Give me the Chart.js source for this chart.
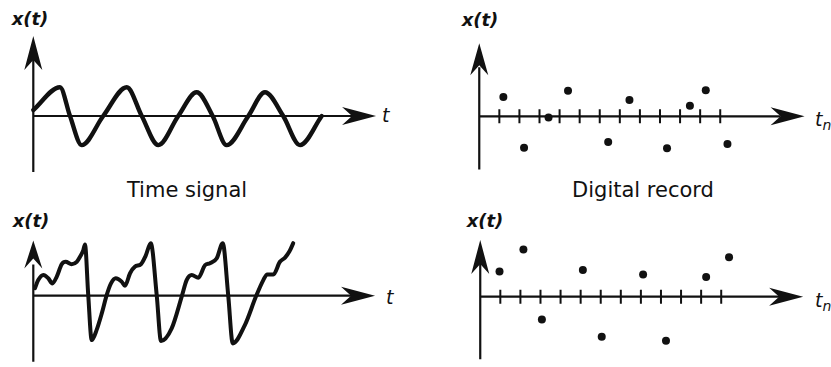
<!DOCTYPE html>
<html>
<head>
<meta charset="utf-8">
<script src="https://cdn.jsdelivr.net/npm/chart.js@4.4.1/dist/chart.umd.min.js"></script>
<style>
  html, body { margin: 0; padding: 0; background: #fff; }
  #figure { position: relative; width: 831px; height: 367px; overflow: hidden; background: #fff; }
  #figure canvas { position: absolute; }
  .lbl { position: absolute; color: #111; font-family: "DejaVu Sans", sans-serif; white-space: nowrap; line-height: 1; }
  .center { transform: translateX(-50%); }
  .xt { font-weight: bold; font-style: italic; font-size: 18px; }
  .tv { font-style: italic; font-size: 19px; }
  .tv sub { font-size: 14px; vertical-align: -4px; font-style: italic; }
  .cap { font-size: 21px; }
</style>
</head>
<body>
<div id="figure">
  <div class="lbl xt center" style="left:30px; top:10px;">x(t)</div>
  <div class="lbl xt center" style="left:480px; top:11px;">x(t)</div>
  <div class="lbl xt center" style="left:31px; top:212px;">x(t)</div>
  <div class="lbl xt center" style="left:485px; top:212px;">x(t)</div>
  <div class="lbl tv" style="left:382px; top:106px;">t</div>
  <div class="lbl tv" style="left:386px; top:288px;">t</div>
  <div class="lbl tv" style="left:815px; top:110px;">t<sub>n</sub></div>
  <div class="lbl tv" style="left:815px; top:291px;">t<sub>n</sub></div>
  <div class="lbl cap center" id="capLeft" style="left:187px; top:180px;"></div>
  <div class="lbl cap center" id="capRight" style="left:643px; top:180px;"></div>
</div>
<script>
// captions under the two upper panels
const captions = ["Time signal", "Digital record"];

// time in sample periods, amplitude in arbitrary units
const sineT = [0, 1.30, 1.79, 2.36, 3.41, 4.56, 5.29, 6.10, 7.07, 7.97, 8.75, 9.43, 10.49, 11.30, 12.19, 13.01, 14.07];
const sineX = [0.2, 0.96, 0, -0.97, 0, 0.96, 0, -0.97, 0, 0.79, 0, -0.97, 0, 0.79, 0, -0.97, 0];

const sawT = [0.08, 0.24, 0.49, 0.73, 0.93, 1.14, 1.39, 1.58, 1.87, 2.12, 2.28, 2.44, 2.52, 2.68, 2.85,
  3.09, 3.34, 3.58, 3.79, 4.02, 4.31, 4.47, 4.72, 4.96, 5.25, 5.48, 5.73, 6.02, 6.23,
  6.75, 7.24, 7.48, 7.73, 8.05, 8.38, 8.62, 8.95, 9.24, 9.51, 9.73,
  10.32, 10.86, 11.22, 11.41, 11.71, 12.03, 12.28, 12.49, 12.68];
const sawX = [0.25, 0.52, 0.69, 0.58, 0.41, 0.63, 1.05, 1.13, 1.05, 1.13, 1.30, 1.52, 1.71, 0.02, -1.48,
  -1.14, -0.59, 0.02, 0.41, 0.58, 0.47, 0.33, 0.75, 0.97, 1.05, 1.33, 1.75, 0.02, -1.51,
  -1.09, -0.03, 0.52, 0.69, 0.60, 1.02, 1.08, 1.25, 1.75, 0, -1.59,
  -0.98, -0.03, 0.52, 0.71, 0.71, 1.13, 1.27, 1.47, 1.75];

// sample instants t_n marked on the digital record axes
const sampleTicks = [1, 2, 3, 4, 5, 6, 7, 8, 9, 10, 11, 12];

const recordAT = [1.20, 2.23, 3.45, 4.42, 6.42, 7.48, 9.35, 10.49, 11.28, 12.36];
const recordAX = [0.68, -1.10, -0.04, 0.90, -0.90, 0.57, -1.12, 0.37, 0.92, -0.97];

const recordBT = [0.96, 2.15, 3.07, 5.11, 6.05, 8.11, 9.25, 11.25, 12.39];
const recordBX = [0.89, 1.67, -0.81, 0.94, -1.42, 0.78, -1.56, 0.70, 1.39];

const SAMPLE_PX = 20.5; // pixels per sample period
const UNIT_PX = 30;     // pixels per amplitude unit
const INK = "#111";

document.getElementById("capLeft").textContent = captions[0];
document.getElementById("capRight").textContent = captions[1];

const toPoints = (ts, xs) => ts.map((t, i) => ({ x: t, y: xs[i] }));

function drawHead(ctx, tipX, tipY, dx, dy, head) {
  const px = -dy, py = dx;
  const bx = tipX - dx * head.len, by = tipY - dy * head.len;
  const nx = tipX - dx * (head.len - head.notch), ny = tipY - dy * (head.len - head.notch);
  ctx.beginPath();
  ctx.moveTo(tipX, tipY);
  ctx.lineTo(bx + px * head.half, by + py * head.half);
  ctx.lineTo(nx, ny);
  ctx.lineTo(bx - px * head.half, by - py * head.half);
  ctx.closePath();
  ctx.fill();
}

// axes through the origin with arrow heads, plus optional sample ticks
const arrowAxes = {
  id: "arrowAxes",
  beforeDatasetsDraw(chart, args, opts) {
    const { ctx } = chart;
    const { x, y } = chart.scales;
    const x0 = x.getPixelForValue(0);
    const y0 = y.getPixelForValue(0);
    const xEnd = x.getPixelForValue(opts.tEnd);
    const yTop = y.getPixelForValue(opts.aTop);
    const yBot = y.getPixelForValue(opts.aBottom);
    const head = opts.head;

    ctx.save();
    ctx.strokeStyle = INK;
    ctx.fillStyle = INK;
    ctx.lineWidth = 2.2;
    ctx.beginPath();
    ctx.moveTo(x0, yBot);
    ctx.lineTo(x0, yTop + head.len - head.notch);
    ctx.moveTo(x0 - 1, y0);
    ctx.lineTo(xEnd - head.len + head.notch, y0);
    ctx.stroke();

    if (opts.ticks) {
      ctx.lineWidth = 2;
      ctx.beginPath();
      opts.ticks.forEach((t) => {
        const px = x.getPixelForValue(t);
        ctx.moveTo(px, y0 - 7);
        ctx.lineTo(px, y0 + 7);
      });
      ctx.stroke();
    }

    drawHead(ctx, x0, yTop, 0, -1, head.yLen ? { ...head, len: head.yLen } : head);
    drawHead(ctx, xEnd, y0, 1, 0, head);
    ctx.restore();
  },
};

const waveStyle = {
  borderColor: INK,
  borderWidth: 4.4,
  pointRadius: 0,
  fill: false,
  cubicInterpolationMode: "monotone",
  borderCapStyle: "round",
  borderJoinStyle: "round",
};

const dotStyle = {
  pointRadius: 4,
  pointBackgroundColor: INK,
  pointBorderWidth: 0,
  showLine: false,
};

const panels = [
  {
    type: "line", left: 0, top: 26, w: 420, h: 156, ox: 33.3, oy: 90,
    datasets: [{ ...waveStyle, data: toPoints(sineT, sineX) }],
    axes: { tEnd: 16.72, aTop: 2.67, aBottom: -1.87, head: { len: 34, half: 9, notch: 10 } },
  },
  {
    type: "scatter", left: 440, top: 26, w: 391, h: 156, ox: 36, oy: 91,
    datasets: [{ ...dotStyle, data: toPoints(recordAT, recordAX) }],
    axes: { tEnd: 16.2, aTop: 2.57, aBottom: -1.87, ticks: sampleTicks, head: { len: 34, half: 9, notch: 10, yLen: 32 } },
  },
  {
    type: "line", left: 0, top: 232, w: 420, h: 135, ox: 33.3, oy: 63.7,
    datasets: [{ ...waveStyle, borderWidth: 4, data: toPoints(sawT, sawX) }],
    axes: { tEnd: 16.67, aTop: 1.84, aBottom: -2.2, head: { len: 34, half: 9, notch: 10, yLen: 28 } },
  },
  {
    type: "scatter", left: 440, top: 226, w: 391, h: 141, ox: 37, oy: 70.7,
    datasets: [{ ...dotStyle, data: toPoints(recordBT, recordBX) }],
    axes: { tEnd: 16.08, aTop: 2.0, aBottom: -2.21, ticks: sampleTicks, head: { len: 34, half: 9, notch: 10, yLen: 34 } },
  },
];

const figure = document.getElementById("figure");

panels.forEach((p) => {
  const canvas = document.createElement("canvas");
  canvas.width = p.w;
  canvas.height = p.h;
  canvas.style.left = p.left + "px";
  canvas.style.top = p.top + "px";
  canvas.style.width = p.w + "px";
  canvas.style.height = p.h + "px";
  figure.appendChild(canvas);

  new Chart(canvas.getContext("2d"), {
    type: p.type,
    data: { datasets: p.datasets },
    options: {
      responsive: false,
      animation: false,
      events: [],
      layout: { padding: 0 },
      plugins: {
        legend: { display: false },
        tooltip: { enabled: false },
        arrowAxes: p.axes,
      },
      scales: {
        x: { type: "linear", display: false, min: -p.ox / SAMPLE_PX, max: (p.w - p.ox) / SAMPLE_PX },
        y: { type: "linear", display: false, min: -(p.h - p.oy) / UNIT_PX, max: p.oy / UNIT_PX },
      },
    },
    plugins: [arrowAxes],
  });
});
</script>
</body>
</html>
